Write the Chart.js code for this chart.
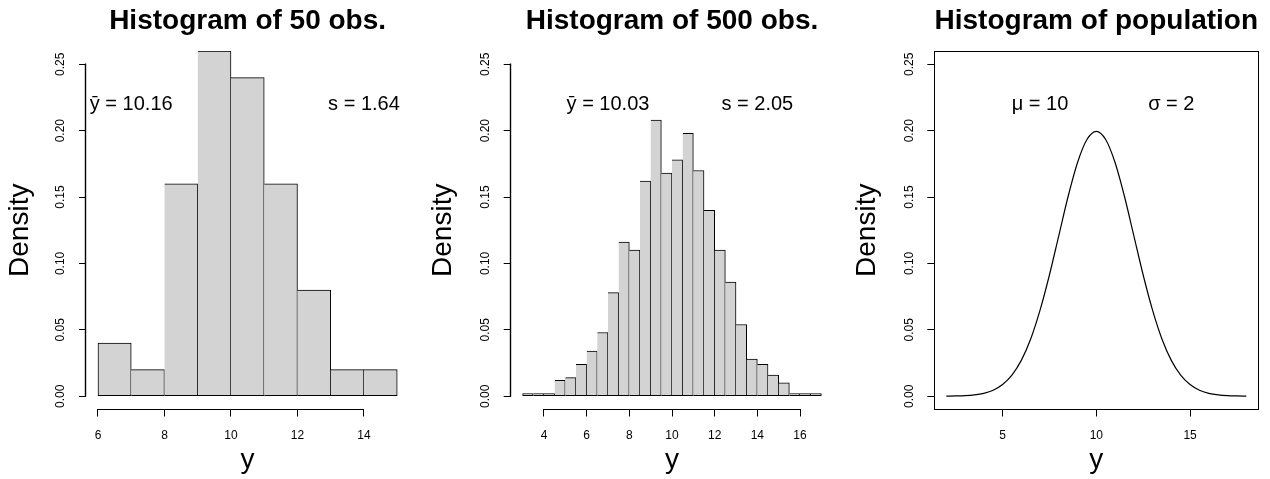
<!DOCTYPE html>
<html><head><meta charset="utf-8">
<script src="https://cdn.jsdelivr.net/npm/chart.js@4/dist/chart.umd.min.js"></script>
<style>
html,body{margin:0;padding:0;background:#fff;}
#wrap{position:relative;width:1270px;height:479px;overflow:hidden;background:#fff;}
canvas{position:absolute;top:0;}
</style></head><body>
<div id="wrap">
<canvas id="c1" width="423" height="479" style="left:0px"></canvas>
<canvas id="c2" width="424" height="479" style="left:423px"></canvas>
<canvas id="c3" width="423" height="479" style="left:847px"></canvas>
</div>
<script>
// ---------- data ----------
const breaks50  = [6,7,8,9,10,11,12,13,14,15];
const density50 = [0.04,0.02,0.16,0.26,0.24,0.16,0.08,0.02,0.02];

const breaks500  = [3,3.5,4,4.5,5,5.5,6,6.5,7,7.5,8,8.5,9,9.5,10,10.5,11,11.5,12,12.5,13,13.5,14,14.5,15,15.5,16,16.5,17];
const density500 = [0.002,0.002,0.002,0.012,0.014,0.024,0.034,0.048,0.078,0.116,0.110,0.162,0.208,0.168,
                    0.178,0.198,0.170,0.140,0.110,0.086,0.054,0.028,0.024,0.016,0.010,0.002,0.002,0.002];

const popX = [2,2.5,3,3.5,4,4.5,5,5.5,6,6.5,7,7.5,8,8.5,9,9.5,10,10.5,11,11.5,12,12.5,13,13.5,14,14.5,15,15.5,16,16.5,17,17.5,18];
const popY = [0.0001,0.0002,0.0004,0.0010,0.0022,0.0045,0.0088,0.0159,0.0270,0.0431,0.0648,0.0913,0.1210,0.1506,0.1760,0.1933,
              0.1995,0.1933,0.1760,0.1506,0.1210,0.0913,0.0648,0.0431,0.0270,0.0159,0.0088,0.0045,0.0022,0.0010,0.0004,0.0002,0.0001];

const xTicks50  = [6,8,10,12,14];
const xTicks500 = [4,6,8,10,12,14,16];
const xTicksPop = [5,10,15];
const yTicks      = [0,0.05,0.10,0.15,0.20,0.25];
const yTickLabels = ['0.00','0.05','0.10','0.15','0.20','0.25'];

const titles    = ['Histogram of 50 obs.','Histogram of 500 obs.','Histogram of population'];
const statLeft  = ['\u0233 = 10.16','\u0233 = 10.03','\u03bc = 10'];
const statRight = ['s = 1.64','s = 2.05','\u03c3 = 2'];
const statX = [7, 14];
const statY = 0.22;

// ---------- layout ----------
const FONT = "'Liberation Sans', Arial, Helvetica, sans-serif";
Chart.defaults.font.family = FONT;
Chart.defaults.color = '#000';
const layouts = [
  {left: 86,   right: 13.8},
  {left: 87.7, right: 13.7},
  {left: 87.3, right: 11.7}
];
const ext = (a, b) => [a - 0.04 * (b - a), b + 0.04 * (b - a)];
const al = v => Math.round(v - 0.5) + 0.5;

const decor = {
  id: 'decor',
  afterDraw(chart, args, opts) {
    const {ctx, chartArea: a, scales: {x, y}} = chart;
    const i = opts.i;
    ctx.save();
    ctx.strokeStyle = '#000';
    ctx.fillStyle = '#000';
    ctx.lineWidth = 1;
    if (opts.box) {
      ctx.strokeRect(al(a.left), al(a.top), al(a.right) - al(a.left), al(a.bottom) - al(a.top));
    } else {
      const xt = opts.xt;
      const xl = Math.round(a.left) - 0.5;
      ctx.lineWidth = 1.4;
      ctx.beginPath();
      ctx.moveTo(xl, Math.round(y.getPixelForValue(yTicks[0])) + 0.5);
      ctx.lineTo(xl, Math.round(y.getPixelForValue(yTicks[yTicks.length - 1])) - 0.5);
      ctx.stroke();
      ctx.lineWidth = 1.2;
      const yb = Math.round(a.bottom - 0.5) + 0.5;
      ctx.beginPath();
      ctx.moveTo(Math.round(x.getPixelForValue(xt[0]) - 0.5), yb);
      ctx.lineTo(Math.round(x.getPixelForValue(xt[xt.length - 1]) - 0.5) + 1, yb);
      ctx.stroke();
    }
    // y tick labels (rotated, parallel to axis)
    ctx.font = '12px ' + FONT;
    ctx.textAlign = 'center';
    ctx.textBaseline = 'middle';
    yTicks.forEach((v, k) => {
      ctx.save();
      ctx.translate(a.left - 25, y.getPixelForValue(v));
      ctx.rotate(-Math.PI / 2);
      ctx.fillText(yTickLabels[k], 0, 0);
      ctx.restore();
    });
    // main title
    ctx.font = 'bold 28px ' + FONT;
    ctx.textBaseline = 'alphabetic';
    ctx.fillText(titles[i], (a.left + a.right) / 2, 29);
    // statistics
    ctx.font = '20px ' + FONT;
    ctx.textBaseline = 'middle';
    ctx.fillText(statLeft[i], x.getPixelForValue(statX[0]), y.getPixelForValue(statY));
    ctx.fillText(statRight[i], x.getPixelForValue(statX[1]), y.getPixelForValue(statY));
    ctx.restore();
  }
};

function makeChart(id, i, type, datasets, xr, xt, box) {
  const L = layouts[i];
  const gridOpt = {display: true, drawOnChartArea: false, drawTicks: true, tickLength: 7, color: '#000', lineWidth: 1, offset: false};
  return new Chart(document.getElementById(id), {
    type: type,
    data: {datasets: datasets},
    options: {
      responsive: false, animation: false, devicePixelRatio: 1, events: [],
      layout: {padding: {left: 0, right: L.right, top: 51, bottom: 0}},
      plugins: {legend: {display: false}, tooltip: {enabled: false}, title: {display: false},
                decor: {i: i, xt: xt, box: box}},
      scales: {
        x: {
          type: 'linear', min: xr[0], max: xr[1], offset: false,
          afterBuildTicks: s => { s.ticks = xt.map(v => ({value: v})); },
          afterFit: s => { s.height = 69.5; },
          grid: gridOpt,
          border: {display: false},
          ticks: {font: {size: 12}, color: '#000', padding: 12, maxRotation: 0, minRotation: 0, autoSkip: false,
                  callback: v => String(v)},
          title: {display: true, text: 'y', font: {size: 28}, color: '#000', padding: {top: 0, bottom: 1.6}}
        },
        y: {
          type: 'linear', min: -0.01, max: 0.26, offset: false,
          afterBuildTicks: s => { s.ticks = yTicks.map(v => ({value: v})); },
          afterFit: s => { s.width = L.left; },
          grid: gridOpt,
          border: {display: false},
          ticks: {display: false},
          title: {display: true, text: 'Density', font: {size: 28}, color: '#000', padding: {top: 3, bottom: 0}}
        }
      }
    },
    plugins: [decor]
  });
}

function histDataset(breaks, dens) {
  return {
    data: dens.map((d, k) => ({x: (breaks[k] + breaks[k + 1]) / 2, y: d})),
    backgroundColor: '#d3d3d3',
    borderColor: '#000',
    borderSkipped: false,
    borderWidth: c => ({top: 1, right: 1, bottom: 1, left: c.dataIndex === 0 ? 1 : 0}),
    barPercentage: 1,
    categoryPercentage: 1
  };
}

makeChart('c1', 0, 'bar', [histDataset(breaks50, density50)],
          ext(breaks50[0], breaks50[breaks50.length - 1]), xTicks50, false);
makeChart('c2', 1, 'bar', [histDataset(breaks500, density500)],
          ext(breaks500[0], breaks500[breaks500.length - 1]), xTicks500, false);
makeChart('c3', 2, 'line', [{
    data: popX.map((x, k) => ({x: x, y: popY[k]})),
    borderColor: '#000', borderWidth: 1.2, pointRadius: 0, fill: false,
    cubicInterpolationMode: 'monotone'
  }], ext(popX[0], popX[popX.length - 1]), xTicksPop, true);
</script>
</body></html>
